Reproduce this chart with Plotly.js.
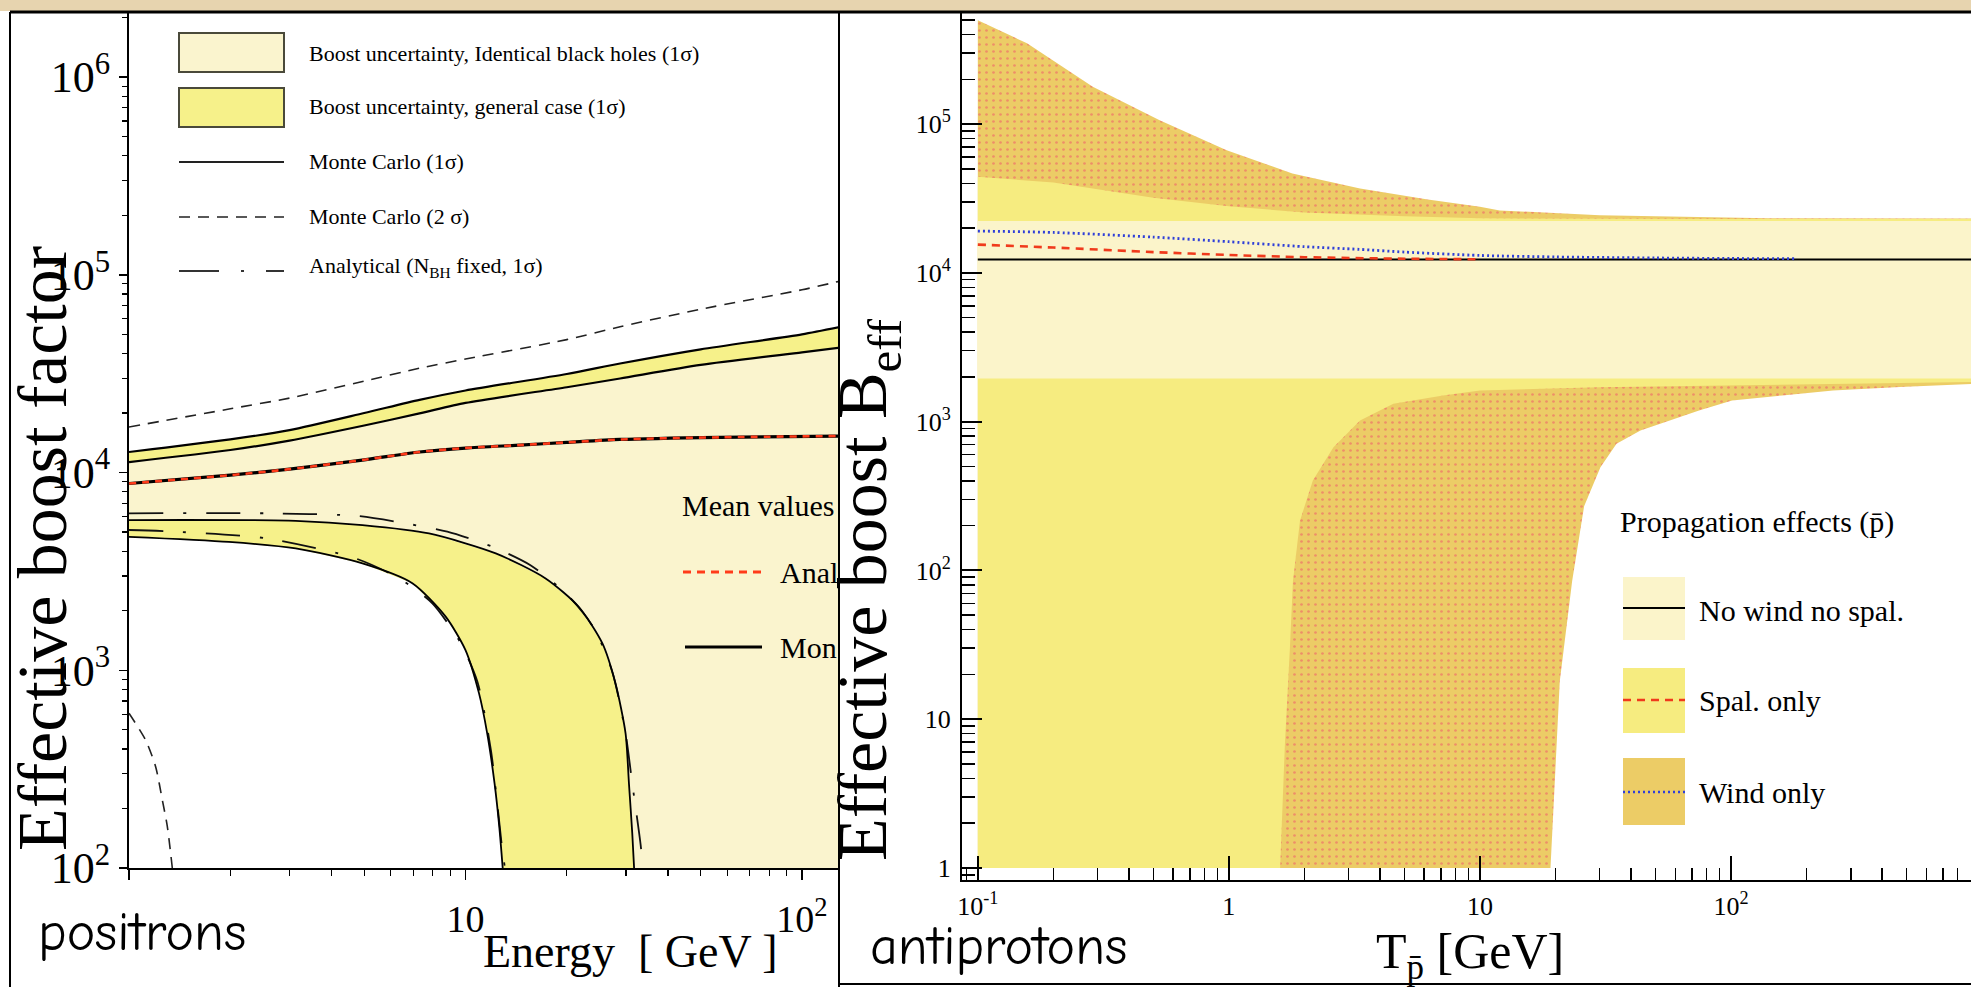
<!DOCTYPE html>
<html>
<head>
<meta charset="utf-8">
<script src="https://cdn.plot.ly/plotly-3.0.1.min.js"></script>
<style>
  html, body { margin: 0; padding: 0; background: #ffffff; }
  #chart { width: 1971px; height: 987px; }
</style>
</head>
<body>
<div id="chart"></div>
<script>
// ---------- Positrons: effective boost factor vs energy [GeV] ----------
const posE          = [1, 2, 3, 5, 7.3, 10, 20, 28.8, 50, 100, 130];
const posBandHi     = [12700, 14700, 16400, 20000, 23300, 26000, 31500, 35600, 42000, 50000, 54500];
const posBandLo     = [11300, 13000, 14500, 17300, 19900, 22500, 27000, 29900, 35000, 40500, 42800];
const pos2SigmaHi   = [17000, 21000, 23800, 29000, 33700, 37500, 47000, 54600, 67000, 84000, 93000];

const pos2SigmaLoE  = [1, 1.12, 1.2, 1.256, 1.3, 1.345];
const pos2SigmaLo   = [606, 444, 325, 221, 162, 100];

const posMeanE      = [1, 2, 3, 5, 7.3, 10, 14.5, 20, 28.8, 57, 130];
const posMean       = [8800, 9700, 10400, 11600, 12700, 13300, 13760, 14200, 14700, 15070, 15300];

const posOuterE     = [1, 3.13, 4.94, 7.79, 12.3, 17.3, 21.7, 25.5, 27.9, 29.9, 30.6, 31.3, 31.7];
const posOuter      = [5750, 5700, 5420, 4920, 3900, 2915, 2095, 1370, 859, 480, 268, 150, 100];
const posInnerE     = [1, 1.98, 3.13, 4.94, 6.95, 8.73, 10.0, 10.97, 11.6, 12.2, 12.6, 12.9];
const posInner      = [4730, 4460, 4130, 3470, 2755, 1868, 1265, 764, 480, 268, 162, 100];

const posAnaOuterE  = [1, 2.58, 4.77, 6.64, 8.83, 12.0, 15.6, 20.1, 24.1, 27.3, 29.9, 31.3, 33.2, 33.6];
const posAnaOuter   = [6220, 6220, 6030, 5530, 5020, 4220, 3400, 2400, 1630, 984, 480, 268, 128, 100];
const posAnaInnerE  = [1, 1.38, 2.58, 4.71, 6.35, 7.97, 9.68, 10.85, 11.9, 12.87, 13.1];
const posAnaInner   = [5120, 5020, 4640, 3680, 2915, 2180, 1370, 875, 395, 123, 100];

const posXTicks     = [1, 10, 100];
const posXTickText  = ['1', '10', '10<sup>2</sup>'];
const posYTicks     = [1e2, 1e3, 1e4, 1e5, 1e6];
const posYTickText  = ['10<sup>2</sup>', '10<sup>3</sup>', '10<sup>4</sup>', '10<sup>5</sup>', '10<sup>6</sup>'];

// ---------- Antiprotons: effective boost B_eff vs kinetic energy [GeV] ----------
const pbarWindHiE   = [0.1, 0.157, 0.287, 0.53, 0.98, 1.79, 3.33, 6.2, 10, 12, 30, 140, 1000];
const pbarWindHi    = [500000, 349000, 178000, 106000, 66800, 46600, 36900, 31100, 27800, 26300, 24400, 23300, 23200];
const pbarWindLoE   = [0.1, 19.1, 20.8, 23.3, 26, 30.2, 35, 43.6, 52, 74.6, 101, 160, 255, 470, 1000];
const pbarWindLo    = [1, 1, 18, 85, 270, 494, 710, 873, 968, 1190, 1390, 1500, 1620, 1710, 1800];

const pbarSpalHiE   = [0.1, 0.2, 0.3, 0.5, 1, 2, 5, 10, 100, 1000];
const pbarSpalHi    = [44300, 40500, 36500, 32000, 28000, 25500, 24000, 23300, 23000, 23000];
const pbarSpalLoE   = [0.1, 1.6, 1.67, 1.75, 1.8, 1.92, 2.16, 2.61, 3.33, 4.52, 7.13, 10, 30, 100, 1000];
const pbarSpalLo    = [1, 1, 6.5, 30, 85, 216, 402, 673, 1018, 1318, 1500, 1620, 1700, 1750, 1850];

const pbarPlainE    = [0.1, 1000];
const pbarPlainHi   = [22300, 22300];
const pbarPlainLo   = [1950, 1950];
const pbarPlainMean = [12300, 12300];

const pbarSpalMeanE = [0.1, 0.2, 0.5, 1, 2, 5, 10];
const pbarSpalMean  = [15500, 14800, 13800, 13200, 12750, 12450, 12350];
const pbarWindMeanE = [0.1, 0.2, 0.5, 1, 2, 3.3, 5, 10, 20, 50, 100, 180];
const pbarWindMean  = [19100, 18700, 17400, 16200, 15000, 14400, 13800, 13100, 12800, 12600, 12500, 12450];

const pbarXTicks    = [0.1, 1, 10, 100];
const pbarXTickText = ['10<sup>-1</sup>', '1', '10', '10<sup>2</sup>'];
const pbarYTicks    = [1, 10, 100, 1e3, 1e4, 1e5];
const pbarYTickText = ['1', '10', '10<sup>2</sup>', '10<sup>3</sup>', '10<sup>4</sup>', '10<sup>5</sup>'];

// ---------- helpers ----------
const W = 1971, H = 987;
const PX = v => v / W;          // pixel column -> paper x
const PY = v => 1 - v / H;      // pixel row    -> paper y
const SERIF = "'Liberation Serif', 'Times New Roman', Times, serif";
const HAND  = "'Comic Sans MS', 'Comic Neue', 'Liberation Sans Narrow', 'DejaVu Sans Condensed', 'DejaVu Sans', sans-serif";

const PALE = '#FAF4CE', YELLOW = '#F6F18A';
const PBAR_PALE = '#FBF4CA', PBAR_SPAL = '#F6EC80', PBAR_WIND = '#ECCC66';

// closed band polygon: upper edge forward, lower edge backwards
function band(xHi, yHi, xLo, yLo) {
  return {
    x: xHi.concat(xLo.slice().reverse()),
    y: yHi.concat(yLo.slice().reverse())
  };
}
function minorLog(d0, d1) {
  const v = [];
  for (let d = d0; d <= d1; d++) for (let k = 2; k <= 9; k++) v.push(k * Math.pow(10, d));
  return v;
}
function fillTrace(poly, color, xa, ya, extra) {
  return Object.assign({
    type: 'scatter', mode: 'lines', x: poly.x, y: poly.y, fill: 'toself',
    fillcolor: color, line: { width: 0, color: color }, xaxis: xa, yaxis: ya,
    hoverinfo: 'skip'
  }, extra || {});
}
function lineTrace(x, y, color, width, dash, xa, ya) {
  return {
    type: 'scatter', mode: 'lines', x: x, y: y,
    line: { color: color, width: width, dash: dash || 'solid', shape: 'spline', smoothing: 0.7 },
    xaxis: xa, yaxis: ya, hoverinfo: 'skip'
  };
}

const DASHDOT = '34px,20px,3px,20px';
const DASH2S  = '11px,8px';

// pale region: between the upper band and the lower band (down to the axis past the cut-off)
const palePoly = band(posE, posBandLo, posOuterE.concat([130]), posOuter.concat([100]));
const upperPoly = band(posE, posBandHi, posE, posBandLo);
const lowerPoly = band(posOuterE, posOuter, posInnerE, posInner);

const traces = [
  fillTrace(palePoly, PALE, 'x', 'y'),
  fillTrace(upperPoly, YELLOW, 'x', 'y'),
  fillTrace(lowerPoly, YELLOW, 'x', 'y'),
  lineTrace(posAnaOuterE, posAnaOuter, '#111', 1.8, DASHDOT, 'x', 'y'),
  lineTrace(posAnaInnerE, posAnaInner, '#111', 1.8, DASHDOT, 'x', 'y'),
  lineTrace(posE, posBandHi, '#000', 2.2, 'solid', 'x', 'y'),
  lineTrace(posE, posBandLo, '#000', 2.2, 'solid', 'x', 'y'),
  lineTrace(posOuterE, posOuter, '#000', 1.8, 'solid', 'x', 'y'),
  lineTrace(posInnerE, posInner, '#000', 1.8, 'solid', 'x', 'y'),
  lineTrace(posE, pos2SigmaHi, '#222', 1.6, DASH2S, 'x', 'y'),
  lineTrace(pos2SigmaLoE, pos2SigmaLo, '#222', 1.6, DASH2S, 'x', 'y'),
  lineTrace(posMeanE, posMean, '#000', 3.2, 'solid', 'x', 'y'),
  lineTrace(posMeanE, posMean, '#FF3B1A', 2.6, '7px,6px', 'x', 'y'),

  // antiprotons: wind region (stippled), spallation region, no-wind-no-spallation band
  fillTrace(band(pbarWindHiE, pbarWindHi, pbarWindLoE, pbarWindLo), PBAR_WIND, 'x2', 'y2', {
    fillpattern: { shape: '.', bgcolor: PBAR_WIND, fgcolor: '#EE8E68', size: 7, solidity: 0.12 }
  }),
  fillTrace(band(pbarSpalHiE, pbarSpalHi, pbarSpalLoE, pbarSpalLo), PBAR_SPAL, 'x2', 'y2'),
  fillTrace(band(pbarPlainE, pbarPlainHi, pbarPlainE, pbarPlainLo), PBAR_PALE, 'x2', 'y2'),
  lineTrace(pbarPlainE, pbarPlainMean, '#000', 2, 'solid', 'x2', 'y2'),
  lineTrace(pbarSpalMeanE, pbarSpalMean, '#F03A1C', 2.6, '8px,6px', 'x2', 'y2'),
  lineTrace(pbarWindMeanE, pbarWindMean, '#2F3FD8', 2.8, '2px,3px', 'x2', 'y2')
];

const axisCommon = {
  type: 'log', showgrid: false, zeroline: false, showline: true,
  linecolor: '#000', linewidth: 2, tickcolor: '#000', tickmode: 'array'
};

const layout = {
  width: W, height: H,
  margin: { l: 0, r: 0, t: 0, b: 0, pad: 0 },
  paper_bgcolor: '#ffffff', plot_bgcolor: '#ffffff',
  showlegend: false, hovermode: false,
  xaxis: Object.assign({}, axisCommon, {
    domain: [PX(129), PX(838)], anchor: 'y', range: [0, 2.107],
    tickvals: posXTicks, ticktext: posXTickText, ticks: 'outside', ticklen: 10, tickwidth: 1.5,
    ticklabelstandoff: 6,
    tickfont: { family: SERIF, size: 38, color: '#000' },
    minor: { tickvals: minorLog(0, 2), ticks: 'outside', ticklen: 6, tickwidth: 1.2, tickcolor: '#000' }
  }),
  yaxis: Object.assign({}, axisCommon, {
    domain: [PY(868), PY(13)], anchor: 'x', range: [2, 6.324],
    tickvals: posYTicks, ticktext: posYTickText, ticks: 'outside', ticklen: 8, tickwidth: 1.5,
    tickfont: { family: SERIF, size: 44, color: '#000' },
    minor: { tickvals: minorLog(2, 6), ticks: 'outside', ticklen: 5, tickwidth: 1.2, tickcolor: '#000' }
  }),
  xaxis2: Object.assign({}, axisCommon, {
    domain: [PX(962), 1], anchor: 'y2', range: [-1.063, 2.956],
    tickvals: pbarXTicks, ticktext: pbarXTickText, ticks: 'inside', ticklen: 24, tickwidth: 2,
    ticklabelstandoff: 2,
    tickfont: { family: SERIF, size: 26, color: '#000' },
    minor: { tickvals: minorLog(-2, 2), ticks: 'inside', ticklen: 12, tickwidth: 1.5, tickcolor: '#000' }
  }),
  yaxis2: Object.assign({}, axisCommon, {
    domain: [PY(880), PY(13)], anchor: 'x2', range: [-0.081, 5.747],
    tickvals: pbarYTicks, ticktext: pbarYTickText, ticks: 'inside', ticklen: 20, tickwidth: 2,
    ticklabelstandoff: 4,
    tickfont: { family: SERIF, size: 26, color: '#000' },
    minor: { tickvals: minorLog(-1, 5), ticks: 'inside', ticklen: 13, tickwidth: 1.5, tickcolor: '#000' }
  }),
  shapes: [],
  annotations: []
};

const S = layout.shapes, A = layout.annotations;

// page frame
S.push({ type: 'rect', xref: 'paper', yref: 'paper', x0: 0, x1: 1, y0: PY(11), y1: 1,
         fillcolor: '#E7D4AF', line: { width: 0 }, layer: 'above' });
S.push({ type: 'line', xref: 'paper', yref: 'paper', x0: PX(10), x1: 1, y0: PY(12), y1: PY(12),
         line: { color: '#000', width: 3 }, layer: 'above' });
S.push({ type: 'line', xref: 'paper', yref: 'paper', x0: PX(10), x1: PX(10), y0: 0, y1: PY(12),
         line: { color: '#000', width: 2 }, layer: 'above' });
S.push({ type: 'line', xref: 'paper', yref: 'paper', x0: PX(839), x1: PX(839), y0: 0, y1: PY(12),
         line: { color: '#000', width: 2 }, layer: 'above' });
S.push({ type: 'line', xref: 'paper', yref: 'paper', x0: PX(839), x1: 1, y0: PY(984), y1: PY(984),
         line: { color: '#000', width: 2 }, layer: 'above' });

function ann(text, x, y, size, opts) {
  A.push(Object.assign({
    text: text, xref: 'paper', yref: 'paper', x: PX(x), y: PY(y),
    xanchor: 'left', yanchor: 'middle', showarrow: false,
    font: { family: SERIF, size: size, color: '#000' }
  }, opts || {}));
}
function rectPx(x0, y0, x1, y1, fill, line) {
  S.push({ type: 'rect', xref: 'paper', yref: 'paper', x0: PX(x0), x1: PX(x1), y0: PY(y1), y1: PY(y0),
           fillcolor: fill, line: line || { width: 0 }, layer: 'above' });
}
function linePx(x0, x1, y, color, width, dash) {
  S.push({ type: 'line', xref: 'paper', yref: 'paper', x0: PX(x0), x1: PX(x1), y0: PY(y), y1: PY(y),
           line: { color: color, width: width, dash: dash || 'solid' }, layer: 'above' });
}

// positron legend
rectPx(179, 33, 284, 72, PALE, { color: '#4a4a3a', width: 2 });
rectPx(179, 88, 284, 127, YELLOW, { color: '#4a4a3a', width: 2 });
linePx(179, 284, 162, '#222', 2.2);
linePx(179, 284, 217, '#222', 1.6, DASH2S);
linePx(179, 284, 271, '#333', 2, '40px,22px,3px,22px');
ann('Boost uncertainty, Identical black holes (1σ)', 307, 53, 22);
ann('Boost uncertainty, general case (1σ)', 307, 107, 22);
ann('Monte Carlo (1σ)', 307, 162, 22);
ann('Monte Carlo (2 σ)', 307, 217, 22);
ann('Analytical (N<sub>BH</sub> fixed, 1σ)', 307, 267, 22);

ann('Mean values', 680, 505, 30);
linePx(683, 762, 572, '#FF3B1A', 3, '8px,6px');
ann('Anal', 778, 572, 30);
linePx(685, 762, 647, '#000', 3);
ann('Mon', 778, 647, 30);

// positron titles
ann('Effective boost factor', 42, 549, 70, { xanchor: 'center', textangle: -90 });
ann('Energy  [ GeV ]', 630, 951, 46, { xanchor: 'center' });
ann('positrons', 36, 932, 54, { font: { family: HAND, size: 54, color: '#000' }, bgcolor: '#ffffff' });

// antiproton legend
ann('Propagation effects (p̄)', 1618, 522, 30);
rectPx(1623, 577, 1685, 640, PBAR_PALE);
rectPx(1623, 668, 1685, 733, PBAR_SPAL);
rectPx(1623, 758, 1685, 825, PBAR_WIND);
linePx(1623, 1685, 608, '#000', 2);
linePx(1623, 1685, 700, '#F03A1C', 2.6, '8px,6px');
linePx(1623, 1685, 792, '#2F3FD8', 2.6, '2px,3px');
ann('No wind no spal.', 1697, 610, 30);
ann('Spal. only', 1697, 700, 30);
ann('Wind only', 1697, 792, 30);

// antiproton titles
ann('Effective boost B<sub>eff</sub>', 868, 590, 70, { xanchor: 'center', textangle: -90 });
ann('T<sub>p̄</sub> [GeV]', 1470, 955, 50, { xanchor: 'center' });
ann('antiprotons', 868, 946, 54, { font: { family: HAND, size: 54, color: '#000' } });

Plotly.newPlot('chart', traces, layout, { staticPlot: true, displayModeBar: false });
</script>
</body>
</html>
